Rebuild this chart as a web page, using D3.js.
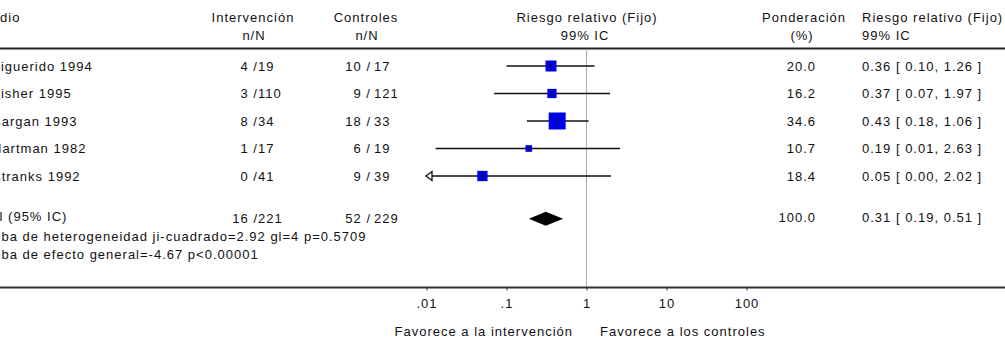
<!DOCTYPE html>
<html>
<head>
<meta charset="utf-8">
<script src="https://cdn.jsdelivr.net/npm/d3@7"></script>
<style>
body { margin: 0; background: #fff; }
svg text { font-family: "Liberation Sans", Arial, sans-serif; font-size: 13px; letter-spacing: 1px; fill: #111; }
</style>
</head>
<body>
<div id="chart"></div>
<script>
// data
var studies = ["Figuerido 1994", "Fisher 1995", "Bargan 1993", "Hartman 1982", "Stranks 1992"];
var intEvents = [4, 3, 8, 1, 0];
var intTotal = [19, 110, 34, 17, 41];
var ctlEvents = [10, 9, 18, 6, 9];
var ctlTotal = [17, 121, 33, 19, 39];
var weights = [20.0, 16.2, 34.6, 10.7, 18.4];
var rr = [0.36, 0.37, 0.43, 0.19, 0.05];
var rrLow = [0.10, 0.07, 0.18, 0.013, 0.001];
var rrHigh = [1.26, 1.97, 1.06, 2.63, 2.02];

var totalLabel = "Total (95% IC)";
var totalInt = [16, 221];
var totalCtl = [52, 229];
var totalWeight = 100.0;
var totalRR = [0.31, 0.19, 0.51];
var hetText = "Prueba de heterogeneidad ji-cuadrado=2.92 gl=4 p=0.5709";
var effText = "Prueba de efecto general=-4.67 p<0.00001";

var tickVals = [0.01, 0.1, 1, 10, 100];
var tickLabels = [".01", ".1", "1", "10", "100"];

var W = 1005, H = 341;
var svg = d3.select("#chart").append("svg")
	.attr("width", W)
	.attr("height", H);

var x = d3.scaleLog().domain([0.01, 100]).range([426.5, 746.5]);
var rowY = d3.scaleLinear().domain([0, 1]).range([66, 93.5]);
var boxSize = d3.scalePow().exponent(0.8).domain([0, 34.6]).range([0, 17]);
var totalIdx = 5.55;
var axisY = 287.5;

function fmt2(v) { return v.toFixed(2); }

// header
var hdr = svg.append("g");
hdr.append("text").attr("x", -30).attr("y", 22).text("Estudio");
hdr.append("text").attr("x", 253).attr("y", 22).attr("text-anchor", "middle").text("Intervención");
hdr.append("text").attr("x", 254).attr("y", 40).attr("text-anchor", "middle").text("n/N");
hdr.append("text").attr("x", 366).attr("y", 22).attr("text-anchor", "middle").text("Controles");
hdr.append("text").attr("x", 367).attr("y", 40).attr("text-anchor", "middle").text("n/N");
hdr.append("text").attr("x", 587).attr("y", 22).attr("text-anchor", "middle").text("Riesgo relativo (Fijo)");
hdr.append("text").attr("x", 585).attr("y", 40).attr("text-anchor", "middle").text("99% IC");
hdr.append("text").attr("x", 804).attr("y", 22).attr("text-anchor", "middle").text("Ponderación");
hdr.append("text").attr("x", 802).attr("y", 40).attr("text-anchor", "middle").text("(%)");
hdr.append("text").attr("x", 862).attr("y", 22).text("Riesgo relativo (Fijo)");
hdr.append("text").attr("x", 862).attr("y", 40).text("99% IC");

svg.append("line")
	.attr("x1", 0).attr("x2", W)
	.attr("y1", 48.5).attr("y2", 48.5)
	.attr("stroke", "#222").attr("stroke-width", 2);

// reference line at RR = 1
svg.append("line")
	.attr("x1", x(1)).attr("x2", x(1))
	.attr("y1", 49).attr("y2", axisY)
	.attr("stroke", "#aaa").attr("stroke-width", 1);

// study rows
var rows = svg.selectAll("g.row").data(studies).enter().append("g").attr("class", "row");

rows.append("text").attr("x", -8).attr("y", function(d, i) { return rowY(i) + 4.5; }).text(function(d) { return d; });
rows.append("text").attr("x", 258).attr("y", function(d, i) { return rowY(i) + 4.5; })
	.attr("text-anchor", "end").text(function(d, i) { return intEvents[i] + " /"; });
rows.append("text").attr("x", 258).attr("y", function(d, i) { return rowY(i) + 4.5; })
	.text(function(d, i) { return intTotal[i]; });
rows.append("text").attr("x", 371).attr("y", function(d, i) { return rowY(i) + 4.5; })
	.attr("text-anchor", "end").text(function(d, i) { return ctlEvents[i] + " /"; });
rows.append("text").attr("x", 374).attr("y", function(d, i) { return rowY(i) + 4.5; })
	.text(function(d, i) { return ctlTotal[i]; });
rows.append("text").attr("x", 816).attr("y", function(d, i) { return rowY(i) + 4.5; })
	.attr("text-anchor", "end").text(function(d, i) { return weights[i].toFixed(1); });
rows.append("text").attr("x", 862).attr("y", function(d, i) { return rowY(i) + 4.5; })
	.text(function(d, i) { return fmt2(rr[i]) + " [ " + fmt2(rrLow[i]) + ", " + fmt2(rrHigh[i]) + " ]"; });

// CI lines, clipped to the axis range with an arrow when out of range
var xmin = x.domain()[0];
rows.append("line")
	.attr("x1", function(d, i) { return rrLow[i] < xmin ? x(xmin) + 5 : x(rrLow[i]); })
	.attr("x2", function(d, i) { return x(rrHigh[i]); })
	.attr("y1", function(d, i) { return rowY(i); })
	.attr("y2", function(d, i) { return rowY(i); })
	.attr("stroke", "#111").attr("stroke-width", 1.6);

rows.filter(function(d, i) { return rrLow[i] < xmin; })
	.append("path")
	.attr("d", function(d) {
		var i = studies.indexOf(d), cy = rowY(i), tx = x(xmin) - 0.5;
		return "M" + tx + "," + cy + "L" + (tx + 6) + "," + (cy - 4.5) + "L" + (tx + 6) + "," + (cy + 4.5) + "Z";
	})
	.attr("fill", "#fff").attr("stroke", "#111").attr("stroke-width", 1.3);

rows.append("rect")
	.attr("x", function(d, i) { return x(rr[i]) - boxSize(weights[i]) / 2; })
	.attr("y", function(d, i) { return rowY(i) - boxSize(weights[i]) / 2; })
	.attr("width", function(d, i) { return boxSize(weights[i]); })
	.attr("height", function(d, i) { return boxSize(weights[i]); })
	.attr("fill", "#0000e6");

rows.append("line")
	.attr("x1", function(d, i) { return x(rr[i]); })
	.attr("x2", function(d, i) { return x(rr[i]); })
	.attr("y1", function(d, i) { return rowY(i) - 2.5; })
	.attr("y2", function(d, i) { return rowY(i) + 2.5; })
	.attr("stroke", "#111").attr("stroke-width", 1.2);

// total row
var ty = rowY(totalIdx);
svg.append("text").attr("x", -29).attr("y", ty + 2).text(totalLabel);
svg.append("text").attr("x", 258).attr("y", ty + 4).attr("text-anchor", "end").text(totalInt[0] + " /");
svg.append("text").attr("x", 258).attr("y", ty + 4).text(totalInt[1]);
svg.append("text").attr("x", 371).attr("y", ty + 4).attr("text-anchor", "end").text(totalCtl[0] + " /");
svg.append("text").attr("x", 374).attr("y", ty + 4).text(totalCtl[1]);
svg.append("text").attr("x", 816).attr("y", ty + 3).attr("text-anchor", "end").text(totalWeight.toFixed(1));
svg.append("text").attr("x", 862).attr("y", ty + 3)
	.text(fmt2(totalRR[0]) + " [ " + fmt2(totalRR[1]) + ", " + fmt2(totalRR[2]) + " ]");

svg.append("path")
	.attr("d", "M" + x(totalRR[1]) + "," + ty +
		"L" + x(totalRR[0]) + "," + (ty - 7) +
		"L" + x(totalRR[2]) + "," + ty +
		"L" + x(totalRR[0]) + "," + (ty + 7) + "Z")
	.attr("fill", "#000");

svg.append("text").attr("x", -30).attr("y", 241).text(hetText);
svg.append("text").attr("x", -30).attr("y", 259).text(effText);

// axis
var axis = d3.axisBottom(x)
	.tickValues(tickVals)
	.tickFormat(function(d, i) { return tickLabels[i]; })
	.tickSizeInner(3)
	.tickSizeOuter(0)
	.tickPadding(8);

var gAxis = svg.append("g").attr("transform", "translate(0," + axisY + ")").call(axis);
gAxis.select(".domain").remove();
gAxis.selectAll(".tick line").attr("stroke", "#333");
gAxis.selectAll("text").attr("font-family", null).attr("font-size", null).attr("fill", null);

svg.append("line")
	.attr("x1", 0).attr("x2", W)
	.attr("y1", axisY).attr("y2", axisY)
	.attr("stroke", "#333").attr("stroke-width", 2);

svg.append("text").attr("x", 573).attr("y", 336).attr("text-anchor", "end").text("Favorece a la intervención");
svg.append("text").attr("x", 600).attr("y", 336).text("Favorece a los controles");
</script>
</body>
</html>
